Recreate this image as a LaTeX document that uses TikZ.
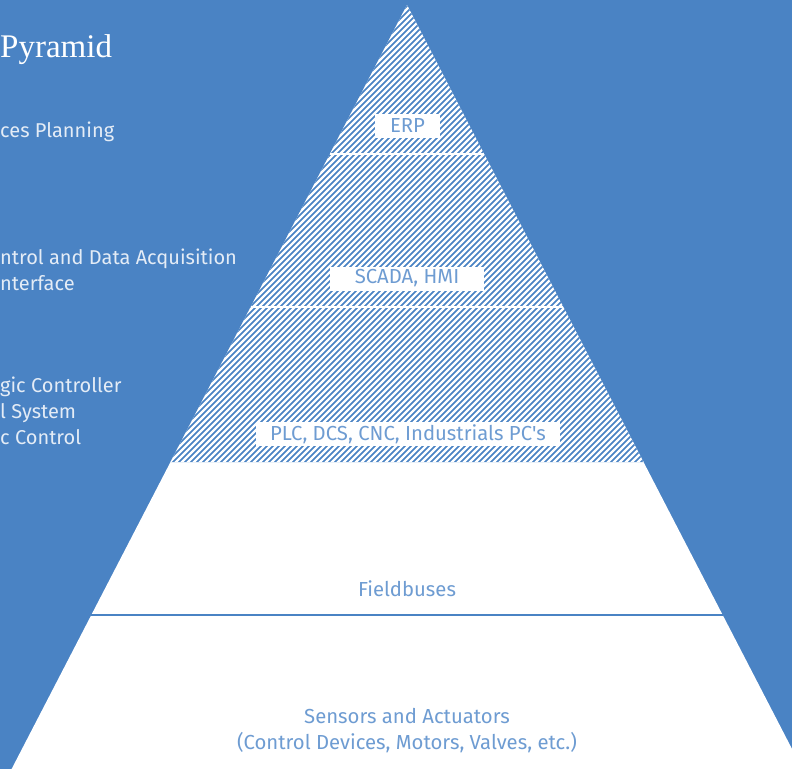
\documentclass[tikz,border=0pt]{standalone}
\usepackage{fontspec}
\usetikzlibrary{calc, positioning}
\newfontfamily\dinfont{Fira Sans}
\newfontfamily\titlefont{Liberation Serif}
\definecolor{pyrblue}{RGB}{74,131,196}
\definecolor{labelblue}{RGB}{110,156,210}
\definecolor{sidetext}{RGB}{228,236,246}

\begin{document}
\begin{tikzpicture}[x=1pt,y=-1pt,
        layer/.style={fill=white, text=labelblue, inner sep=0pt, minimum height=24pt,
            font=\dinfont\fontsize{20.3}{26}\selectfont},
        plain/.style={text=labelblue, align=center, inner sep=0pt,
            font=\dinfont\fontsize{20.3}{26}\selectfont},
        side/.style={text=sidetext, anchor=west, inner sep=0pt, align=left,
            font=\dinfont\fontsize{20}{26}\selectfont},
        hatch/.style={white, line width=2.3pt},
        divider/.style={line width=2.6pt}]
    \useasboundingbox (0,0) rectangle (792,769);
    \clip (0,0) rectangle (792,769);
    \fill[pyrblue] (0,0) rectangle (792,769);

    % pyramid corners and level edges
    \coordinate (apex)  at (407,5);
    \coordinate (baseL) at (11.6,769);
    \coordinate (baseR) at (802.4,769);
    \foreach \n/\t in {erp/0.195, scada/0.3953, plc/0.5982, bus/0.7984} {
        \coordinate (\n L) at ($(apex)!\t!(baseL)$);
        \coordinate (\n R) at ($(apex)!\t!(baseR)$);
    }

    \fill[white] (apex) -- (baseL) -- (baseR) -- cycle;
    \fill[pyrblue] (apex) -- (plcL) -- (plcR) -- cycle;
    \begin{scope}
        \clip (apex) -- (plcL) -- (plcR) -- cycle;
        \foreach \c in {-60,-54,...,640}
            \draw[hatch] (\c,470) -- ++(470,-470);
    \end{scope}

    \draw[divider, white] (erpL) -- (erpR);
    \draw[divider, white] (scadaL) -- (scadaR);
    \draw[divider, pyrblue] (busL) -- (busR);

    \node[layer, minimum width=65pt]  (erp)   at (407.5,126) {ERP};
    \node[layer, minimum width=154pt] (scada) at (407,278.5) {SCADA, HMI};
    \node[layer, minimum width=304pt] (plc)   at (408,434)   {PLC, DCS, CNC, Industrials PC's};
    \node[plain] (fieldbus) at (407,589) {Fieldbuses};
    \node[plain] (sensors)  at (407,731) {Sensors and Actuators\\(Control Devices, Motors, Valves, etc.)};

    % cut-off text on the left
    \node[text=white, anchor=base west, inner sep=0pt, font=\titlefont\fontsize{33}{38}\selectfont]
        (title) at (0,57) {Pyramid};
    \node[side] (planning) at (0,131.5) {ces Planning};
    \node[side] (scadatxt) at (0,269.5) {ntrol and Data Acquisition\\nterface};
    \node[side] (plctxt)   at (0,410.5) {gic Controller\\l System\\c Control};
\end{tikzpicture}
\end{document}
